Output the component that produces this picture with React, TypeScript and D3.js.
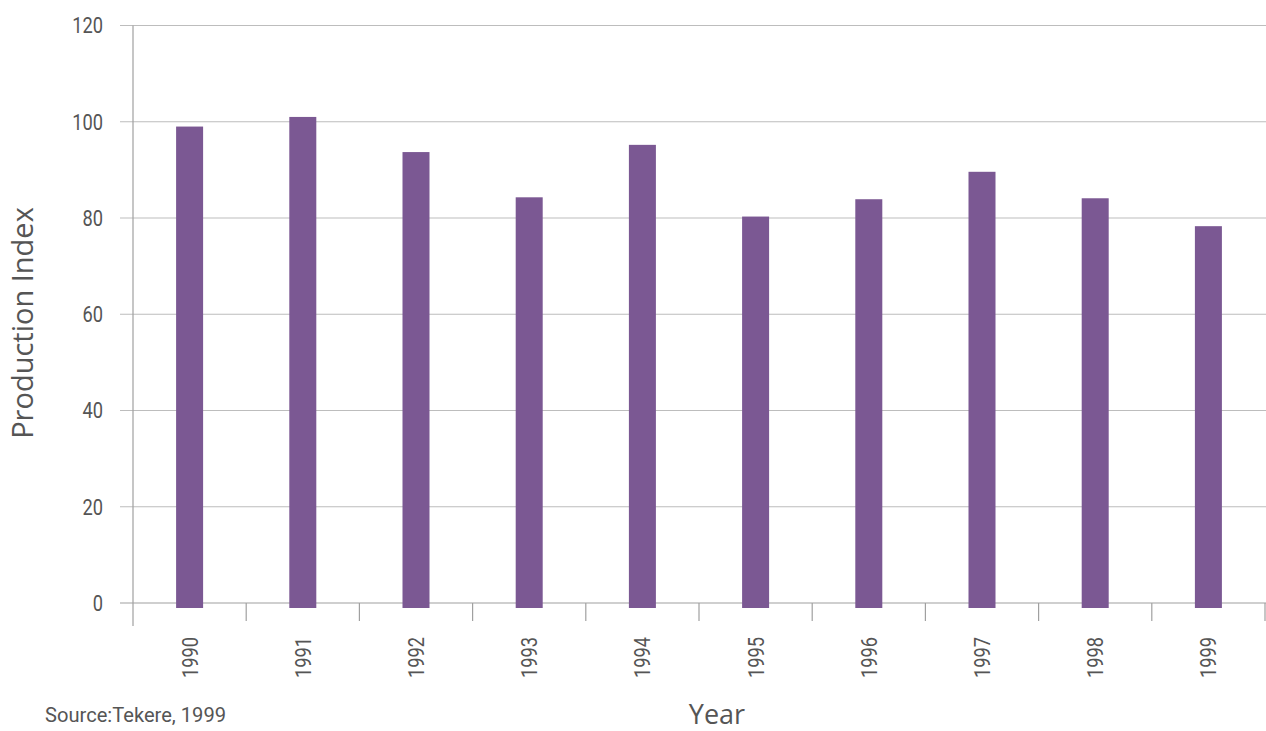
import React from "react";
import * as d3 from "d3";

// Production index by year
const years: string[] = ["1990", "1991", "1992", "1993", "1994", "1995", "1996", "1997", "1998", "1999"];
const productionIndex: number[] = [99, 101, 93.7, 84.3, 95.2, 80.3, 83.9, 89.6, 84.1, 78.3];
const yTicks: number[] = [0, 20, 40, 60, 80, 100, 120];

const W = 1266;
const H = 731;
const left = 133;
const right = 1265;
const top = 25.5;
const bottom = 603;

const BAR_COLOR = "#7b5893";
const GRID = "#bdbdbd";
const AXIS = "#a0a0a0";
const LABEL = "#555555";
const tickFont = "Roboto, 'Noto Sans', sans-serif";
const titleFont = "'Open Sans', 'Noto Sans', sans-serif";
// horizontal squeeze that gives the tick labels a condensed look
const squeeze = 0.83;

export default function App() {
  const x = d3.scaleBand<string>().domain(years).range([left, right]).paddingInner(0).paddingOuter(0);
  const y = d3.scaleLinear().domain([0, 120]).range([bottom, top]);
  const barW = 27;
  const overhang = 5;
  const boundaries = d3.range(years.length + 1).map((i) => left + i * x.step());

  return (
    <svg
      width={W}
      height={H}
      style={{ position: "absolute", left: 0, top: 0, background: "#ffffff" }}
    >
      {/* horizontal gridlines with left tick stubs */}
      {yTicks.map((t) => (
        <g key={t}>
          <line x1={120} x2={W} y1={y(t)} y2={y(t)} stroke={t === 0 ? AXIS : GRID} strokeWidth={1.2} />
          <text
            transform={`translate(103,${y(t)}) scale(${squeeze},1)`}
            dy="0.36em"
            textAnchor="end"
            fontFamily={tickFont}
            fontSize={22}
            fill={LABEL}
          >
            {t}
          </text>
        </g>
      ))}

      {/* vertical axis */}
      <line x1={left} x2={left} y1={top} y2={626} stroke={AXIS} strokeWidth={1.2} />

      {/* category ticks */}
      {boundaries.slice(1).map((bx, i) => (
        <line key={i} x1={bx} x2={bx} y1={bottom} y2={621} stroke={AXIS} strokeWidth={1.2} />
      ))}

      {/* bars */}
      {years.map((yr, i) => {
        const cx = (x(yr) as number) + x.bandwidth() / 2;
        const v = productionIndex[i];
        return (
          <rect
            key={yr}
            x={cx - barW / 2}
            y={y(v)}
            width={barW}
            height={y(0) - y(v) + overhang}
            fill={BAR_COLOR}
          />
        );
      })}

      {/* year labels */}
      {years.map((yr) => {
        const cx = (x(yr) as number) + x.bandwidth() / 2;
        return (
          <text
            key={yr}
            transform={`translate(${cx},${637}) rotate(-90) scale(${squeeze},1)`}
            textAnchor="end"
            dy="0.36em"
            fontFamily={tickFont}
            fontSize={22}
            fill={LABEL}
          >
            {yr}
          </text>
        );
      })}

      {/* axis titles */}
      <text
        transform={`translate(${23},${323}) rotate(-90)`}
        textAnchor="middle"
        dy="0.36em"
        fontFamily={titleFont}
        fontSize={29}
        fill={LABEL}
      >
        Production Index
      </text>
      <text x={717} y={724} textAnchor="middle" fontFamily={titleFont} fontSize={27} fill={LABEL}>
        Year
      </text>

      {/* source note */}
      <text
        x={45}
        y={722}
        fontFamily={tickFont}
        fontSize={21}
        fill={LABEL}
        textLength={181}
        lengthAdjust="spacingAndGlyphs"
      >
        Source:Tekere, 1999
      </text>
    </svg>
  );
}
